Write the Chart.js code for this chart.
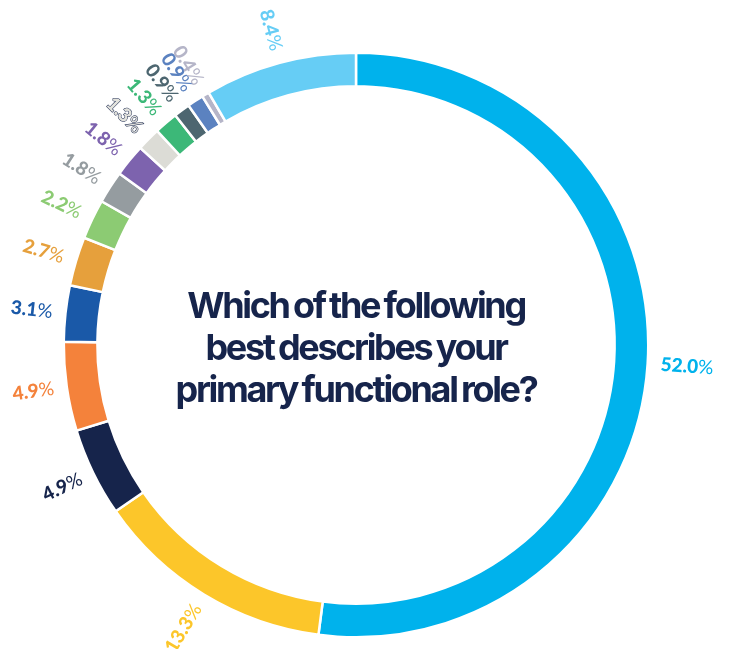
<!DOCTYPE html>
<html>
<head>
<meta charset="utf-8">
<script src="https://cdn.jsdelivr.net/npm/chart.js@4.4.1/dist/chart.umd.min.js"></script>
<style>
    html, body { margin: 0; padding: 0; background: #fff; }
    .wrap { position: relative; width: 739px; height: 649px; }
    .title {
        position: absolute; left: 156px; top: 284px; width: 400px;
        text-align: center; color: #16244b;
        font-family: Inter, sans-serif; font-weight: 700;
        font-size: 36px; line-height: 42px;
        letter-spacing: -0.065em; word-spacing: -0.05em;
    }
</style>
</head>
<body>
<div class="wrap">
    <canvas id="roleChart" width="739" height="649"></canvas>
    <div class="title">Which of the following<br>best describes your<br>primary functional role?</div>
</div>
<script>
// values read clockwise from 12 o'clock
const shares = [52.0, 13.3, 4.9, 4.9, 3.1, 2.7, 2.2, 1.8, 1.8, 1.3, 1.3, 0.9, 0.9, 0.4, 8.4];
const sliceColors = ['#00b2ec', '#fcc62a', '#16244b', '#f4823b', '#1a59a8', '#e6a03c', '#8ccb73',
    '#959ca0', '#7d63ae', '#dcdcd6', '#3cb878', '#4d6670', '#5b82c0', '#b5b5c8', '#66cdf5'];
// label fill differs only where the slice is too pale to read
const labelColors = ['#00b2ec', '#fcc62a', '#16244b', '#f4823b', '#1a59a8', '#e6a03c', '#8ccb73',
    '#959ca0', '#7d63ae', '#e2e2dc', '#3cb878', '#4d6670', '#5b82c0', '#b5b5c8', '#66cdf5'];

const outsideLabels = {
    id: 'outsideLabels',
    afterDatasetsDraw(chart) {
        const { ctx } = chart;
        const arcs = chart.getDatasetMeta(0).data;
        arcs.forEach((arc, i) => {
            const { x, y, startAngle, endAngle, outerRadius } = arc.getProps(['x', 'y', 'startAngle', 'endAngle', 'outerRadius'], true);
            const mid = (startAngle + endAngle) / 2;
            const r = outerRadius + 13;
            const px = x + Math.cos(mid) * r;
            const py = y + Math.sin(mid) * r;
            const right = Math.cos(mid) >= 0;
            const num = shares[i].toFixed(1);

            ctx.save();
            ctx.translate(px, py);
            ctx.rotate(right ? mid : mid + Math.PI);
            ctx.textBaseline = 'middle';
            ctx.textAlign = 'left';
            const numFont = '900 19px Lato, sans-serif';
            const pctFont = '19px Lato, sans-serif';
            ctx.font = numFont;
            const w1 = ctx.measureText(num).width;
            ctx.font = pctFont;
            const w2 = ctx.measureText('%').width;
            const x0 = right ? 0 : -(w1 + w2);

            ctx.fillStyle = labelColors[i];
            ctx.strokeStyle = '#16244b';
            ctx.lineWidth = 1;
            const outlined = i === 9;
            ctx.font = numFont;
            if (outlined) ctx.strokeText(num, x0, 0);
            ctx.fillText(num, x0, 0);
            ctx.font = pctFont;
            if (outlined) ctx.strokeText('%', x0 + w1, 0);
            ctx.fillText('%', x0 + w1, 0);
            ctx.restore();
        });
    }
};

new Chart(document.getElementById('roleChart'), {
    type: 'doughnut',
    data: {
        labels: shares.map(v => v.toFixed(1) + '%'),
        datasets: [{
            data: shares,
            backgroundColor: sliceColors,
            borderColor: '#ffffff',
            borderWidth: 2.5
        }]
    },
    options: {
        responsive: false,
        animation: false,
        cutout: '88.5%',
        layout: { padding: { left: 62.5, right: 89.5, top: 51.5, bottom: 10.5 } },
        plugins: {
            legend: { display: false },
            tooltip: { enabled: false }
        }
    },
    plugins: [outsideLabels]
});
</script>
</body>
</html>
